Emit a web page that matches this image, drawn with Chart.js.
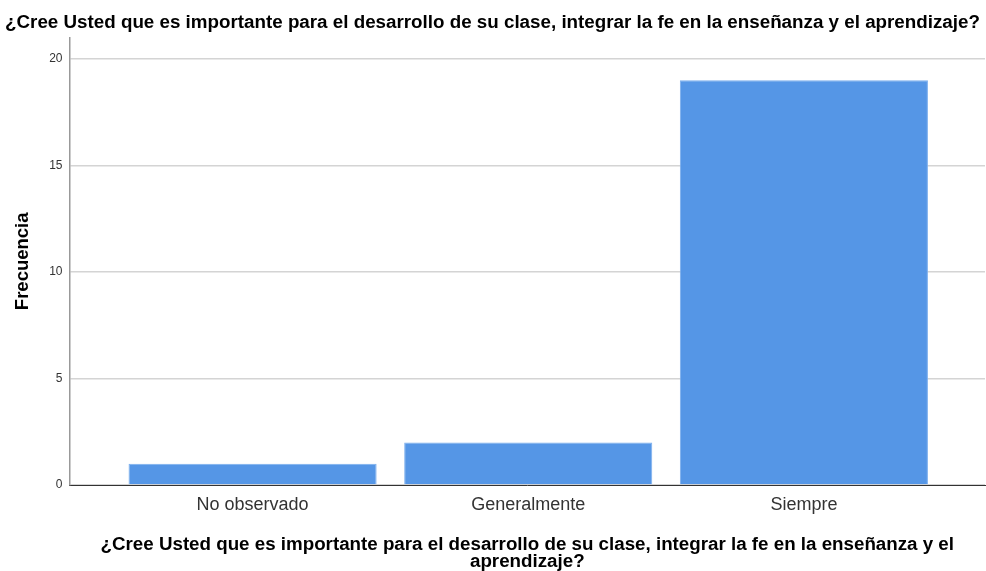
<!DOCTYPE html>
<html>
<head>
<meta charset="utf-8">
<script src="https://cdn.jsdelivr.net/npm/chart.js@4"></script>
<style>
  html, body { margin: 0; padding: 0; background: #fff; }
  #wrap { width: 986px; height: 571px; }
</style>
</head>
<body>
<div id="wrap"><canvas id="chart" width="986" height="571"></canvas></div>
<script>
const categories = ["No observado", "Generalmente", "Siempre"];
const frequencies = [1, 2, 19];
const yTicks = [0, 5, 10, 15, 20];
const chartTitle = "¿Cree Usted que es importante para el desarrollo de su clase, integrar la fe en la enseñanza y el aprendizaje?";
const xTitle = ["¿Cree Usted que es importante para el desarrollo de su clase, integrar la fe en la enseñanza y el", "aprendizaje?"];
const yTitle = "Frecuencia";

const points = categories.map((c, i) => ({ x: i, y: frequencies[i] }));

const ctx = document.getElementById("chart").getContext("2d");
const myChart = new Chart(ctx, {
    type: 'bar',
    data: {
        datasets: [{
            data: points,
            backgroundColor: '#5596e6',
            borderColor: '#7aaeee',
            borderWidth: 1,
            categoryPercentage: 1,
            barPercentage: 0.9
        }]
    },
    options: {
        responsive: false,
        animation: false,
        layout: { padding: { left: 0, right: 1, top: 0, bottom: 1 } },
        plugins: {
            legend: { display: false },
            tooltip: { enabled: false },
            title: {
                display: true,
                text: chartTitle,
                color: '#000',
                font: { family: 'Liberation Sans, Arial', size: 18.8, weight: 'bold' },
                padding: { top: 12, bottom: 3 }
            }
        },
        scales: {
            x: {
                type: 'linear',
                offset: false,
                min: -0.664,
                max: 2.657,
                grid: { display: false, offset: false, drawTicks: false },
                border: { display: true, color: '#333', width: 1 },
                afterBuildTicks: (axis) => {
                    axis.ticks = categories.map((c, i) => ({ value: i }));
                },
                ticks: {
                    callback: (v) => categories[v],
                    color: '#333',
                    font: { family: 'Liberation Sans, Arial', size: 18 },
                    padding: 9,
                    maxRotation: 0,
                    autoSkip: false
                },
                title: {
                    display: true,
                    text: xTitle,
                    color: '#000',
                    font: { family: 'Liberation Sans, Arial', size: 18.75, weight: 'bold', lineHeight: 0.89 },
                    padding: { top: 12, bottom: 0 }
                }
            },
            y: {
                min: 0,
                max: 21,
                afterBuildTicks: (axis) => {
                    axis.ticks = yTicks.map(v => ({ value: v }));
                },
                grid: { color: '#d4d4d4', lineWidth: 1.5, drawTicks: false },
                border: { display: true, color: '#999', width: 1.5 },
                ticks: {
                    color: '#333',
                    font: { family: 'Liberation Sans, Arial', size: 12 },
                    padding: 7
                },
                title: {
                    display: true,
                    text: yTitle,
                    color: '#000',
                    font: { family: 'Liberation Sans, Arial', size: 18.5, weight: 'bold' },
                    padding: { top: 12, bottom: 8 }
                }
            }
        }
    }
});
</script>
</body>
</html>
